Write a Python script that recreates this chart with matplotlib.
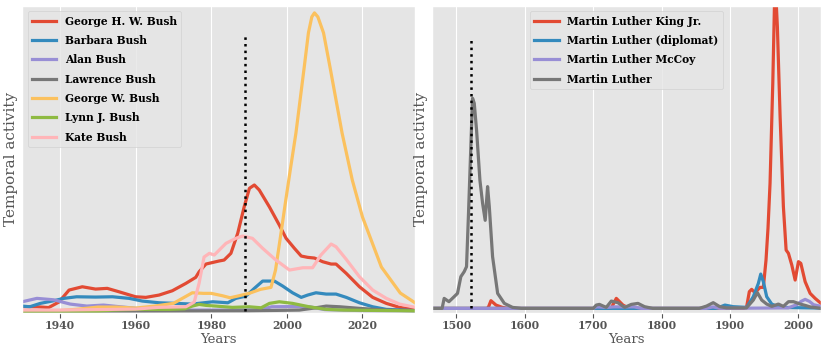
import matplotlib
matplotlib.use("Agg")
import matplotlib.pyplot as plt

plt.style.use("ggplot")
plt.rcParams["font.family"] = ["DejaVu Serif"]

# --- Bush family (left panel) ---
ghw_years = [1930, 1934, 1937, 1939.7, 1942.4, 1945.9, 1949.4, 1952.5, 1955.6, 1960, 1962.7,
             1966.2, 1969.7, 1973.3, 1975.9, 1976.8, 1978.6, 1982, 1983.4, 1985.2, 1987, 1988.7,
             1990.1, 1991.4, 1992.7, 1995.4, 1998, 1999.8, 2002, 2003.8, 2005.5, 2007.3, 2009.5,
             2011.7, 2013, 2015.7, 2019.2, 2022.7, 2026.3, 2029.8, 2034]
ghw_vals = [4.5, 4.3, 3.5, 9, 21, 24.3, 22, 22.7, 19.3, 14.3, 13.7,
            16, 20.3, 27.7, 33.7, 39.3, 47, 50, 51, 57.7, 77.7, 104,
            122.7, 126, 121, 104, 86, 72.7, 62.7, 55, 53.7, 53, 49.3,
            47, 47, 37.7, 24.3, 13.7, 7.7, 3.7, 1.5]

bb_years = [1930, 1932, 1934.8, 1938.3, 1941, 1944.4, 1949.4, 1953.9, 1958.3, 1961.8, 1966.2,
            1970.6, 1975, 1980.4, 1984.4, 1986.5, 1989.2, 1991.4, 1993.6, 1996.7, 1998.9, 2001.5,
            2003.8, 2005.5, 2007.7, 2010.4, 2013, 2015.7, 2019.2, 2022.7, 2026.3, 2034]
bb_vals = [5, 4.3, 7.7, 10.3, 12.7, 14.3, 14, 14.3, 12.7, 10, 8.3,
           7.7, 7, 9.3, 8.3, 12.7, 15, 22.7, 30, 30, 25, 18.3,
           13.7, 16, 18.3, 17, 17, 13.7, 8.3, 4.3, 1.7, 0.5]

alan_years = [1930, 1933.9, 1938.3, 1942.7, 1947.1, 1951.5, 1955.9, 1960.3, 1966.4, 1975, 1985,
              1993, 1996, 2001, 2006, 2010, 2020, 2034]
alan_vals = [9.3, 12.7, 11.3, 7, 5, 6, 4.3, 2.7, 1.7, 1, 1,
             1.5, 4.3, 4.5, 4.3, 1.5, 0.5, 0.3]

law_years = [1930, 1960, 1990, 2003.3, 2007.7, 2010.4, 2014, 2019.2, 2026, 2034]
law_vals = [0, 0, 0.3, 1, 3.3, 5, 4.3, 2.7, 1, 0.3]

gwb_years = [1930, 1940, 1945, 1950, 1955, 1960, 1965, 1970, 1975, 1978, 1980, 1983, 1985, 1987,
             1990, 1993, 1995.8, 1997, 1998.3, 1999.6, 2000.9, 2002.4, 2004.6, 2005.7, 2006.6,
             2007.3, 2008.2, 2009.7, 2011.4, 2013, 2014.6, 2017.3, 2020, 2025, 2030, 2034]
gwb_vals = [0.5, 0.5, 2, 4, 4, 3, 5, 7.7, 18.3, 17.7, 17.7, 15.3, 13.3, 15,
            17.7, 21.7, 23.7, 41, 74, 108, 141, 178, 244, 278, 294,
            298, 294, 278, 244, 211, 178, 131, 94, 44, 18, 8]

lynn_years = [1930, 1950, 1954, 1960, 1968.9, 1973, 1975, 1976.8, 1978.6, 1981.2, 1985.6, 1990,
              1993.2, 1995.4, 1998, 2001.5, 2005.9, 2010.4, 2015, 2034]
lynn_vals = [0, 0, 1, 1.7, 1.7, 2.3, 5, 6.7, 5.7, 5, 3.7, 4.3,
             3.3, 7.7, 9.3, 7.7, 4.3, 1.7, 1, 0.2]

kate_years = [1930, 1940, 1950, 1960, 1966, 1973.3, 1975.5, 1976.8, 1978.1, 1979.5, 1980.8,
              1983.9, 1986.5, 1988.3, 1990.9, 1993.6, 1997.1, 2000.7, 2004.2, 2006.8, 2009,
              2011.7, 2013, 2015.7, 2019.2, 2022.7, 2026.3, 2029.8, 2034]
kate_vals = [1, 1, 1.5, 2, 3.7, 4.3, 9, 28, 54, 57.7, 56,
             67.7, 72.7, 75, 72.7, 62.7, 51, 41, 43.3, 43.3, 56,
             67, 64.3, 51.7, 34.3, 21, 12.7, 7, 3.7]

bush_labels = ["George H. W. Bush", "Barbara Bush", "Alan Bush", "Lawrence Bush",
               "George W. Bush", "Lynn J. Bush", "Kate Bush"]
bush_marker_year = 1989
bush_marker_top = 275

# --- Martin Luther (right panel) ---
mlk_years = [1464, 1545, 1547, 1550.4, 1557.8, 1567, 1575, 1720, 1726, 1733.7, 1743.4, 1753,
             1920, 1924.3, 1928.2, 1931.6, 1936.5, 1943.9, 1948.7, 1952.6, 1955.5, 1958.5,
             1962.5, 1965.8, 1969.2, 1973.2, 1978, 1982, 1985.4, 1990.3, 1995.2, 2000, 2003.5,
             2009.8, 2017.1, 2024.4, 2033]
mlk_vals = [0, 0, 1.7, 7.7, 3.3, 1, 0, 0, 0, 10, 3.3, 0,
            0, 1.7, 16.7, 19, 15.7, 21, 21, 48.3, 80, 125,
            225, 330, 281.7, 191.7, 101.7, 58.3, 55, 43.3, 28.3, 46.7, 45,
            26.7, 15, 10, 5]

dip_years = [1464, 1880, 1892.5, 1904.7, 1924.3, 1934, 1941.4, 1944.9, 1948.7, 1953.6, 1961, 1973, 2033]
dip_vals = [0, 0, 3.3, 1.7, 1, 11.7, 25, 34.3, 26.7, 11.7, 4.3, 1, 0.3]

mccoy_years = [1464, 1482, 1700, 1705, 1720, 1730, 1760, 1770, 1865, 1875, 1885, 1985, 1997.6,
               2004, 2009.8, 2016, 2022, 2033]
mccoy_vals = [0, 0, 0, 1.5, 1, 1.5, 1.5, 0, 0, 1.5, 0, 0.5, 3.7,
              7, 9, 7, 3.7, 2]

ml_years = [1464, 1479, 1482, 1489, 1496.6, 1501.5, 1506.4, 1511.3, 1514.7, 1517.6, 1521, 1523.5,
            1526, 1529.4, 1534.3, 1538.2, 1542, 1545.5, 1548, 1552.8, 1560.2, 1570, 1582, 1595,
            1700, 1704.4, 1709, 1719, 1726.4, 1736, 1746, 1755.7, 1765.4, 1775, 1787, 1855,
            1865.6, 1875.4, 1885, 1895, 1924, 1934, 1940, 1946.3, 1953.6, 1961, 1970.7, 1978,
            1985.4, 1992.7, 2002.5, 2009.8, 2017, 2033]
ml_vals = [0, 0, 10, 6.7, 11.7, 15, 31.7, 36.7, 41.7, 95, 161.7, 210,
           205, 178, 128, 105, 88, 121.7, 101.7, 51.7, 15, 5, 1, 0,
           0, 3.3, 4, 1, 7.3, 5.7, 1, 4, 5, 1.7, 0, 0,
           2.3, 5.7, 1.7, 0.5, 0.5, 8.3, 15.7, 8.3, 4.3, 2, 4.3, 2,
           6.7, 6.7, 4.3, 3, 1.5, 0]

luther_labels = ["Martin Luther King Jr.", "Martin Luther (diplomat)", "Martin Luther McCoy", "Martin Luther"]
luther_marker_year = 1521
luther_marker_top = 268

fig = plt.figure(figsize=(8.21, 3.46), dpi=100)
ax1 = fig.add_axes([0.027, 0.096, 0.479, 0.887])
ax2 = fig.add_axes([0.526, 0.096, 0.474, 0.887])

lw = 2.3
bush = [(ghw_years, ghw_vals), (bb_years, bb_vals), (alan_years, alan_vals), (law_years, law_vals),
        (gwb_years, gwb_vals), (lynn_years, lynn_vals), (kate_years, kate_vals)]
for (x, y), lab in zip(bush, bush_labels):
    ax1.plot(x, y, lw=lw, label=lab)
ax1.vlines(bush_marker_year, 0, bush_marker_top, colors="black", linestyles=":", lw=1.8, zorder=5)

luther = [(mlk_years, mlk_vals), (dip_years, dip_vals), (mccoy_years, mccoy_vals), (ml_years, ml_vals)]
for (x, y), lab in zip(luther, luther_labels):
    ax2.plot(x, y, lw=lw, label=lab)
ax2.vlines(luther_marker_year, 0, luther_marker_top, colors="black", linestyles=":", lw=1.8, zorder=5)

ax1.set_xlim(1930, 2034)
ax1.set_ylim(-1.7, 305)
ax2.set_xlim(1464, 2033)
ax2.set_ylim(-4.4, 302.3)

for ax in (ax1, ax2):
    ax.set_yticks([])
    ax.set_xlabel("Years", fontsize=9.5, color="#555555", labelpad=1)
    ax.set_ylabel("Temporal activity", fontsize=11, color="#555555", labelpad=3)
    ax.tick_params(axis="x", labelsize=7.8, colors="#555555", pad=2)
    for t in ax.get_xticklabels():
        t.set_fontweight("bold")

leg_font = {"weight": "bold", "size": 7.7}
ax1.legend(loc="upper left", prop=leg_font, handlelength=2.3, labelspacing=0.78)
ax2.legend(loc="upper center", prop=leg_font, handlelength=2.3, labelspacing=0.78)

fig.savefig("out.png", dpi=100)
